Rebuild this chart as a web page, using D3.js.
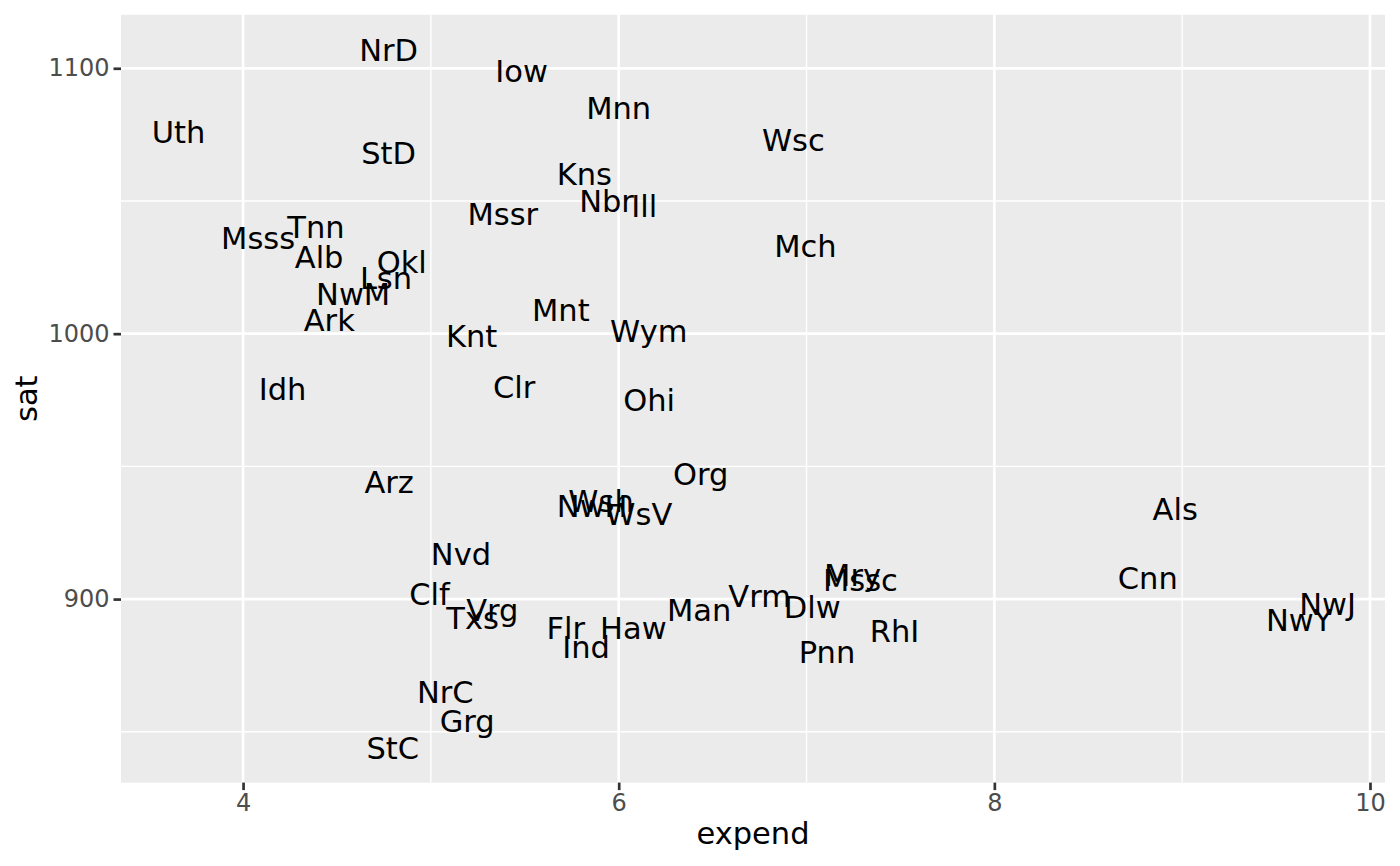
<!DOCTYPE html>
<html>
<head>
<meta charset="utf-8">
<script src="https://cdn.jsdelivr.net/npm/d3@7"></script>
<style>
  body { margin: 0; background: #fff; }
  text { font-family: "DejaVu Sans", sans-serif; }
</style>
</head>
<body>
<svg id="plot" width="1400" height="866"></svg>
<script>
// state abbreviations, spending per pupil ($1000) and mean SAT
var states = ["Alb","Als","Arz","Ark","Clf","Clr","Cnn","Dlw","Flr","Grg",
  "Haw","Idh","Ill","Ind","Iow","Kns","Knt","Lsn","Man","Mry",
  "Mssc","Mch","Mnn","Msss","Mssr","Mnt","Nbr","Nvd","NwH","NwJ",
  "NwM","NwY","NrC","NrD","Ohi","Okl","Org","Pnn","RhI","StC",
  "StD","Tnn","Txs","Uth","Vrm","Vrg","Wsh","WsV","Wsc","Wym"];
var expend = [4.405,8.963,4.778,4.459,4.992,5.443,8.817,7.030,5.718,5.193,
  6.078,4.210,6.136,5.826,5.483,5.817,5.217,4.761,6.428,7.245,
  7.287,6.994,6.000,4.080,5.383,5.692,5.935,5.160,5.859,9.774,
  4.586,9.623,5.077,4.775,6.162,4.845,6.436,7.109,7.469,4.797,
  4.775,4.388,5.222,3.656,6.750,5.327,5.906,6.107,6.930,6.160];
var sat = [1029,934,944,1005,902,980,908,897,889,854,
  889,979,1048,882,1099,1060,999,1021,896,909,
  907,1033,1085,1036,1045,1009,1050,917,935,898,
  1015,892,865,1107,975,1027,947,880,888,844,
  1068,1040,893,1076,901,896,937,932,1073,1001];
var xBreaks = [4, 6, 8, 10];
var xMinor = [5, 7, 9];
var yBreaks = [900, 1000, 1100];
var yMinor = [850, 950, 1050];

var svg = d3.select("#plot");
var margin = {top: 14.8, right: 15, bottom: 83.4, left: 121};
var width = 1400 - margin.left - margin.right,
    height = 866 - margin.top - margin.bottom;

var data = states.map(function(s, i) { return {name: s, x: expend[i], y: sat[i]}; });

// ggplot style 5% expansion
var xr = d3.extent(expend), yr = d3.extent(sat);
var xpad = (xr[1] - xr[0]) * 0.05, ypad = (yr[1] - yr[0]) * 0.05;
var x = d3.scaleLinear().domain([xr[0] - xpad, xr[1] + xpad]).range([0, width]);
var y = d3.scaleLinear().domain([yr[0] - ypad, yr[1] + ypad]).range([height, 0]);

var g = svg.append("g").attr("transform", "translate(" + margin.left + "," + margin.top + ")");

g.append("rect").attr("width", width).attr("height", height).attr("fill", "#ebebeb");

// minor grid
g.selectAll(".vminor").data(xMinor).enter().append("line")
  .attr("x1", d => x(d)).attr("x2", d => x(d)).attr("y1", 0).attr("y2", height)
  .attr("stroke", "#fff").attr("stroke-width", 1.35);
g.selectAll(".hminor").data(yMinor).enter().append("line")
  .attr("y1", d => y(d)).attr("y2", d => y(d)).attr("x1", 0).attr("x2", width)
  .attr("stroke", "#fff").attr("stroke-width", 1.35);
// major grid
g.selectAll(".vmajor").data(xBreaks).enter().append("line")
  .attr("x1", d => x(d)).attr("x2", d => x(d)).attr("y1", 0).attr("y2", height)
  .attr("stroke", "#fff").attr("stroke-width", 2.7);
g.selectAll(".hmajor").data(yBreaks).enter().append("line")
  .attr("y1", d => y(d)).attr("y2", d => y(d)).attr("x1", 0).attr("x2", width)
  .attr("stroke", "#fff").attr("stroke-width", 2.7);

// axes
var xAxis = g.append("g")
  .attr("transform", "translate(0," + height + ")")
  .call(d3.axisBottom(x).tickValues(xBreaks).tickSize(7.5).tickPadding(4).tickFormat(d3.format("d")));
var yAxis = g.append("g")
  .call(d3.axisLeft(y).tickValues(yBreaks).tickSize(7.5).tickPadding(4).tickFormat(d3.format("d")));
[xAxis, yAxis].forEach(function(a) {
  a.select(".domain").remove();
  a.selectAll(".tick line").attr("stroke", "#333").attr("stroke-width", 2.7);
  a.selectAll(".tick text").attr("fill", "#4d4d4d").style("font-size", "24px")
    .style("font-family", "'DejaVu Sans', sans-serif");
});

// labels
g.selectAll(".lab").data(data).enter().append("text")
  .attr("x", d => x(d.x))
  .attr("y", d => y(d.y))
  .attr("dy", "0.36em")
  .attr("text-anchor", "middle")
  .style("font-size", "30.5px")
  .attr("fill", "#000")
  .text(d => d.name);

// axis titles
svg.append("text")
  .attr("x", margin.left + width / 2)
  .attr("y", 844)
  .attr("text-anchor", "middle")
  .style("font-size", "30.5px")
  .text("expend");

svg.append("text")
  .attr("transform", "translate(37," + (margin.top + height / 2) + ") rotate(-90)")
  .attr("text-anchor", "middle")
  .style("font-size", "30.5px")
  .text("sat");
</script>
</body>
</html>
